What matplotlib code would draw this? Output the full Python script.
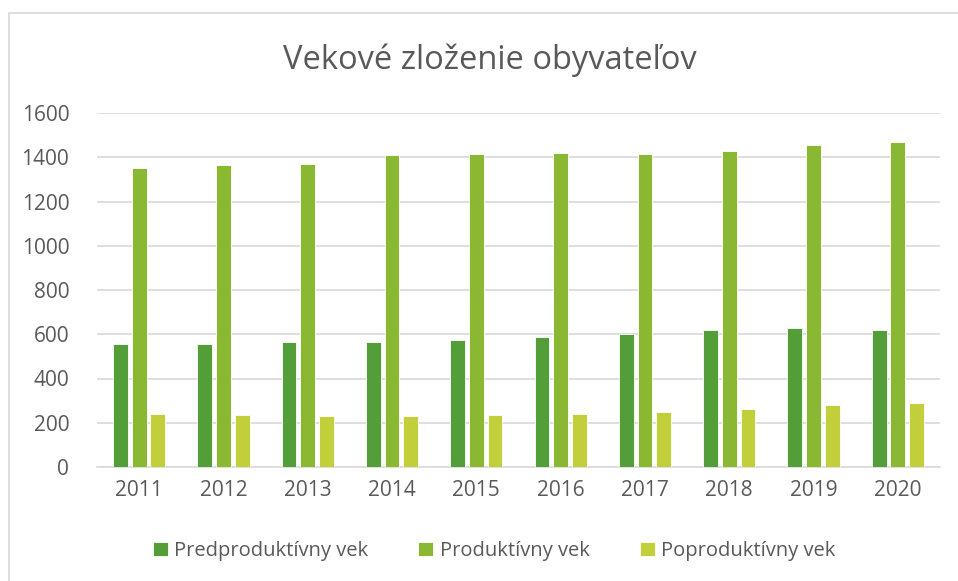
import numpy as np
import matplotlib.pyplot as plt
from matplotlib.patches import Rectangle

# údaje odčítané z grafu
roky = ["2011", "2012", "2013", "2014", "2015", "2016", "2017", "2018", "2019", "2020"]
predproduktivny = [555, 557, 563, 563, 575, 587, 600, 618, 627, 620]
produktivny = [1352, 1365, 1370, 1410, 1415, 1421, 1416, 1428, 1456, 1468]
poproduktivny = [240, 233, 229, 229, 235, 238, 249, 261, 279, 290]

serie_nazvy = ["Predproduktívny vek", "Produktívny vek", "Poproduktívny vek"]
farby = ["#549E39", "#8AB833", "#C0CF3A"]

plt.rcParams["font.family"] = ["Open Sans", "DejaVu Sans"]
text_farba = "#595959"

fig = plt.figure(figsize=(9.58, 5.81), dpi=100)
# rámik grafu
fig.patches.append(Rectangle((9 / 958, -0.05), 1.2, (581 - 13) / 581 + 0.05,
                             transform=fig.transFigure, fill=False,
                             edgecolor="#D9D9D9", linewidth=1.2))

ax = fig.add_axes([97 / 958, 1 - 467 / 581, (940 - 97) / 958, (467 - 113) / 581])

x = np.arange(len(roky))
pitch = 0.222
sirka = 0.175
for i, (vals, nazov, farba) in enumerate(zip([predproduktivny, produktivny, poproduktivny], serie_nazvy, farby)):
    ax.bar(x + (i - 1) * pitch, vals, width=sirka, color=farba, label=nazov,
           edgecolor="white", linewidth=0.6, zorder=3)

ax.set_xlim(-0.5, len(roky) - 0.5)
ax.set_ylim(0, 1600)
ax.set_yticks(range(0, 1601, 200))
ax.set_xticks(x)
ax.set_xticklabels(roky)
ax.yaxis.grid(True, color="#D9D9D9", linewidth=1.2, zorder=0)
ax.set_axisbelow(True)
for s in ["top", "right", "left"]:
    ax.spines[s].set_visible(False)
ax.spines["bottom"].set_color("#D9D9D9")
ax.spines["bottom"].set_linewidth(1.2)
ax.tick_params(axis="both", length=0, labelsize=15, labelcolor=text_farba)
ax.tick_params(axis="y", pad=20)
ax.tick_params(axis="x", pad=9)

fig.text(490 / 958, 1 - 60 / 581, "Vekové zloženie obyvateľov", ha="center", va="center",
         fontsize=23.5, color=text_farba)

fig.legend(loc="center", bbox_to_anchor=(494 / 958, 1 - 551 / 581), ncol=3, frameon=False,
           fontsize=14.5, labelcolor=text_farba, handlelength=0.75, handleheight=0.75,
           handletextpad=0.3, columnspacing=2.5)

fig.savefig("out.png", dpi=100)
